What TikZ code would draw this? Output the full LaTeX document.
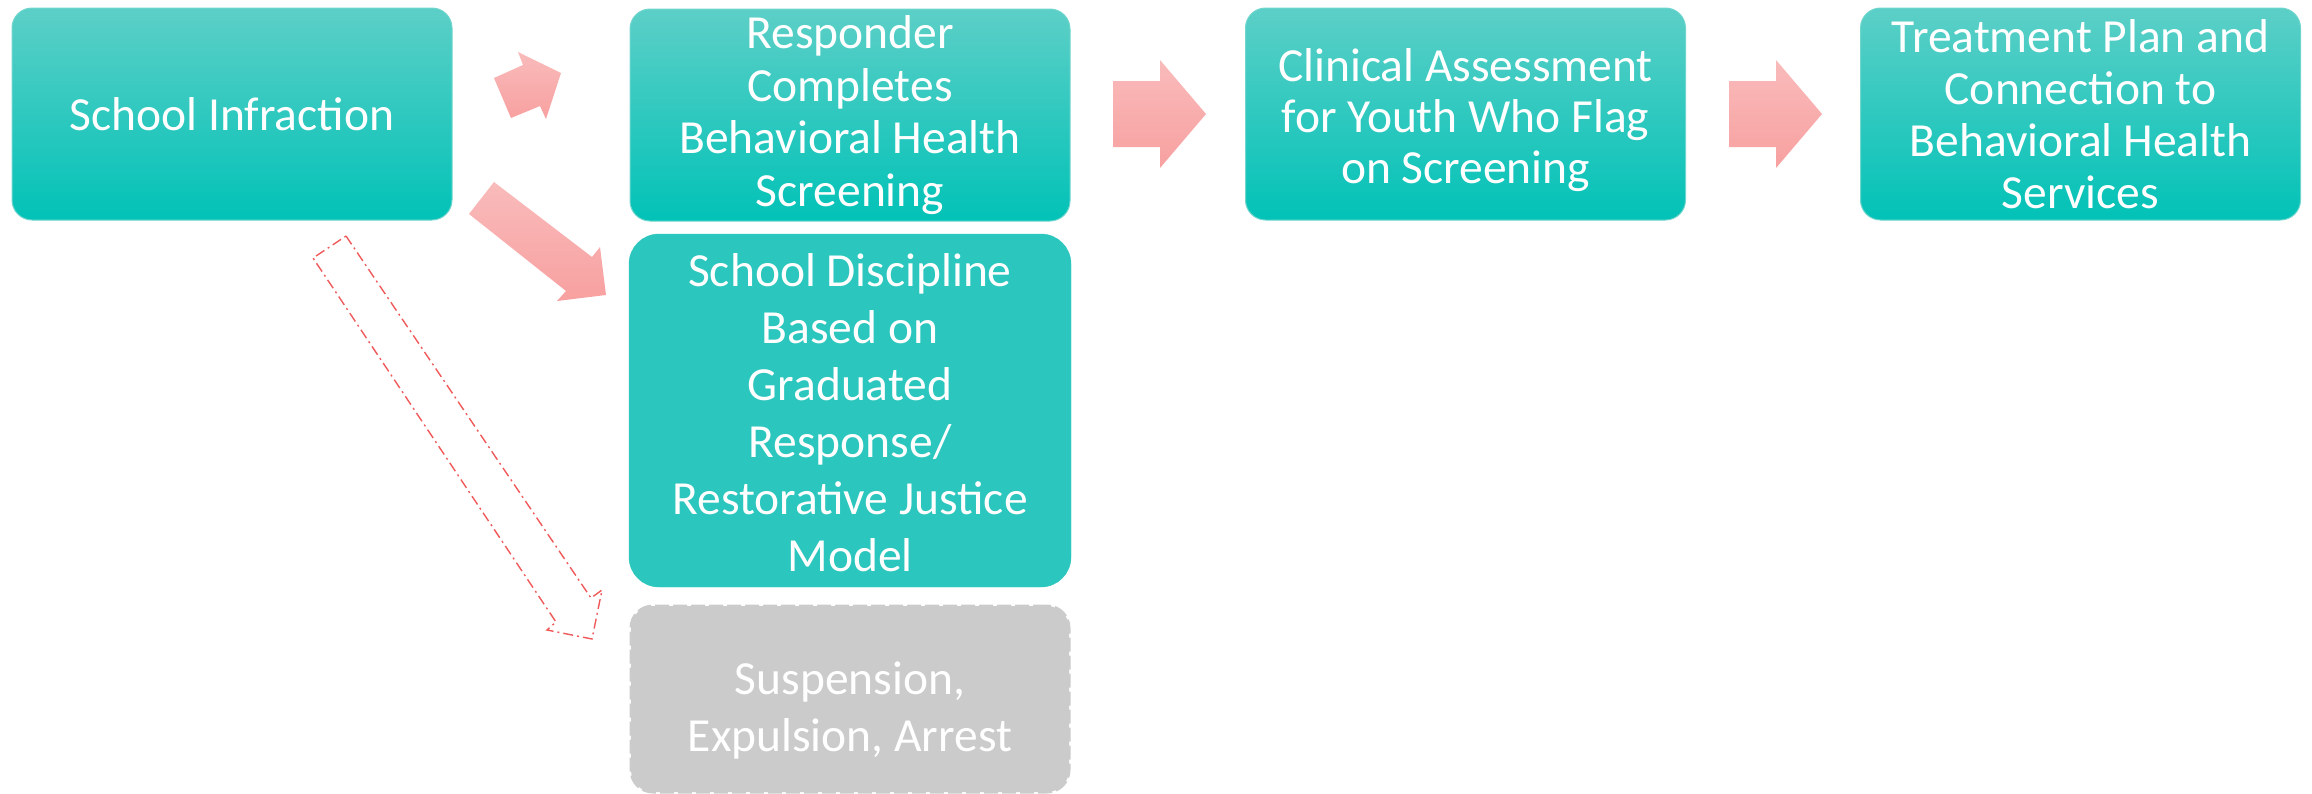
\documentclass[tikz,border=0pt]{standalone}
\usepackage{fontspec}
\setmainfont{Carlito}
\definecolor{tealtop}{HTML}{5CCFC7}
\definecolor{tealbot}{HTML}{02C2B7}
\definecolor{tealedge}{HTML}{6FD6CE}
\definecolor{tealflat}{HTML}{2BC6BD}
\definecolor{greyfill}{HTML}{CBCBCB}
\definecolor{pinktop}{HTML}{F9BBBB}
\definecolor{pinkbot}{HTML}{F8A0A0}
\definecolor{dashred}{HTML}{F05A5A}
\tikzset{
  stepbox/.style={rectangle, rounded corners=20pt, top color=tealtop, bottom color=tealbot,
    draw=tealedge, line width=1pt, text=white, align=center, inner sep=0pt,
    minimum width=440pt, minimum height=212pt, font=\fontsize{47.5}{51}\selectfont},
  flatbox/.style={rectangle, rounded corners=30pt, fill=tealflat, draw=tealflat,
    text=white, align=center, inner sep=0pt, minimum width=442pt, minimum height=353pt,
    font=\fontsize{47.5}{57}\selectfont},
  greybox/.style={rectangle, rounded corners=22pt, fill=greyfill, draw=greyfill,
    line width=3pt, dash pattern=on 14pt off 4pt, text=white, align=center, inner sep=0pt,
    minimum width=438pt, minimum height=186pt, font=\fontsize{47.5}{57}\selectfont},
  blockarrow/.style={top color=pinktop, bottom color=pinkbot, draw=none},
  ghostarrow/.style={draw=dashred, line width=1.4pt, line join=miter,
    dash pattern=on 10pt off 4pt on 2pt off 4pt, fill=none},
}
\begin{document}
\begin{tikzpicture}[x=1pt,y=-1pt]
\useasboundingbox (0,0) rectangle (2312,793);
% boxes
\node[stepbox] (inf) at (232,114) {School Infraction};
\node[stepbox, font=\fontsize{47.5}{52.5}\selectfont] (resp) at (850,115) {Responder\\Completes\\Behavioral Health\\Screening};
\node[stepbox] (clin) at (1465.5,114) {\rule{0pt}{46pt}Clinical Assessment\\for Youth Who Flag\\on Screening};
\node[stepbox, font=\fontsize{47.5}{52}\selectfont] (treat) at (2080.5,114) {Treatment Plan and\\Connection to\\Behavioral Health\\Services};
\node[flatbox] (disc) at (850,410.5) {\rule{0pt}{38pt}School Discipline\\Based on\\Graduated\\Response/\\Restorative Justice\\Model};
\node[greybox] (susp) at (850,699) {\rule{0pt}{56pt}Suspension,\\Expulsion, Arrest};
% block arrows
\path[blockarrow] (494,78) -- (523,65) -- (518,52) -- (561,73) -- (546,119) -- (540,106) -- (511,118) -- cycle;
\path[blockarrow] (494,182) -- (592,257) -- (600,247) -- (606,295) -- (557,301) -- (566,291) -- (469,214) -- cycle;
\path[blockarrow] (1113,81) -- (1160,81) -- (1160,60) -- (1206,114) -- (1160,168) -- (1160,147) -- (1113,147) -- cycle;
\path[blockarrow] (1729,81) -- (1776,81) -- (1776,60) -- (1822,114) -- (1776,168) -- (1776,147) -- (1729,147) -- cycle;
% outlined dashed arrow
\draw[ghostarrow] (346,236) -- (591,598) -- (602,590) -- (592,639) -- (547,630) -- (556,622) -- (313,258) -- cycle;
\end{tikzpicture}
\end{document}
